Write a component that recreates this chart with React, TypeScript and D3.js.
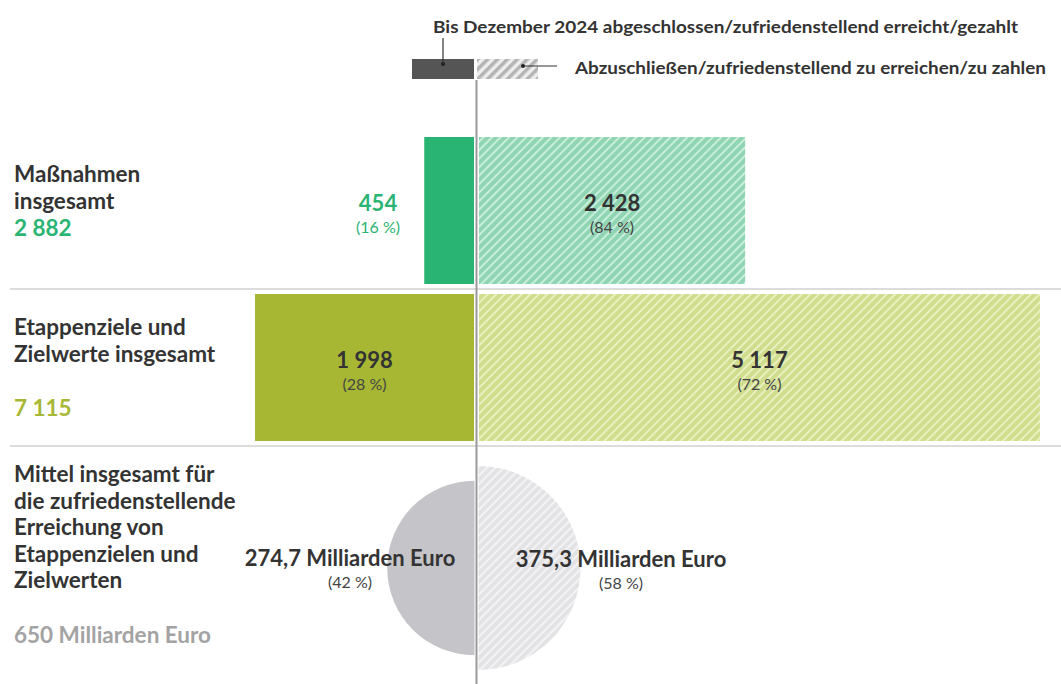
import React from "react";
import * as d3 from "d3";

// row data (bars)
const categories = ["Maßnahmen insgesamt", "Etappenziele und Zielwerte insgesamt"];
const headingLines = [
  ["Maßnahmen", "insgesamt"],
  ["Etappenziele und", "Zielwerte insgesamt"],
];
const doneValues = [454, 1998];
const openValues = [2428, 5117];
const totals = [2882, 7115];

// funds (half circles), Mrd. Euro
const fundsHeading = [
  "Mittel insgesamt für",
  "die zufriedenstellende",
  "Erreichung von",
  "Etappenzielen und",
  "Zielwerten",
];
const fundsDone = 274.7;
const fundsOpen = 375.3;
const fundsTotal = 650;

const legendLabels = [
  "Bis Dezember 2024 abgeschlossen/zufriedenstellend erreicht/gezahlt",
  "Abzuschließen/zufriedenstellend zu erreichen/zu zahlen",
];

const W = 1061;
const H = 684;
const axisX = 476.5;
const font = "Lato, 'Open Sans', sans-serif";

const solid = ["#2ab473", "#a7b733"];
const hatchBase = ["#8fd5b3", "#cfdd8d"];
const hatchStripe = ["#c7eedb", "#e8f0c0"];
const totalColors = ["#2ab473", "#a7b733"];

const headSize = 22.5;
const valueSize = 22;
const pctSize = 16;

const de = d3.formatLocale({
  decimal: ",",
  thousands: " ",
  grouping: [3],
  currency: ["", " €"],
});
const fmtInt = de.format(",d");
const fmtMrd = de.format(",.1f");
const pct = (v: number, t: number) => `(${Math.round((v / t) * 100)} %)`;

const App = () => {
  const y = d3.scaleBand<string>().domain(categories).range([132, 446]);
  const w = d3.scaleLinear().domain([0, 5200]).range([0, 570]);
  const r = d3.scaleSqrt().domain([0, fundsOpen]).range([0, 102]);
  const pieY = 568;

  const leftArc = d3.arc<any>()({
    innerRadius: 0,
    outerRadius: r(fundsDone),
    startAngle: Math.PI,
    endAngle: 2 * Math.PI,
  });
  const rightArc = d3.arc<any>()({
    innerRadius: 0,
    outerRadius: r(fundsOpen),
    startAngle: 0,
    endAngle: Math.PI,
  });

  const hatch = (id: string, base: string, stripe: string, size: number, sw: number) => (
    <pattern
      id={id}
      patternUnits="userSpaceOnUse"
      width={size}
      height={size}
      patternTransform="rotate(45)"
    >
      <rect width={size} height={size} fill={base} />
      <rect width={sw} height={size} fill={stripe} />
    </pattern>
  );

  return (
    <div style={{ position: "absolute", left: 0, top: 0 }}>
      <svg width={W} height={H} style={{ display: "block", fontFamily: font }}>
        <defs>
          {hatch("hatch0", hatchBase[0], hatchStripe[0], 6, 2)}
          {hatch("hatch1", hatchBase[1], hatchStripe[1], 6, 2)}
          {hatch("hatchGray", "#e3e3e6", "#f3f3f5", 6, 2)}
          {hatch("hatchLegend", "#eeeeee", "#b4b4b4", 7, 3.5)}
        </defs>
        <rect width={W} height={H} fill="#fff" />

        {/* legend */}
        <rect x={412} y={59} width={62} height={20} fill="#555" />
        <rect x={477} y={59} width={61} height={20} fill="url(#hatchLegend)" />
        <line x1={443} x2={443} y1={38} y2={64} stroke="#333" strokeWidth={1.2} />
        <circle cx={443} cy={64} r={2} fill="#222" />
        <line x1={523} x2={557} y1={66} y2={66} stroke="#333" strokeWidth={1.2} />
        <circle cx={523} cy={66} r={2} fill="#222" />
        <text x={433} y={33} fontSize={17} fontWeight={700} fill="#333" textLength={585} lengthAdjust="spacingAndGlyphs">
          {legendLabels[0]}
        </text>
        <text x={575} y={74} fontSize={17} fontWeight={700} fill="#333" textLength={471} lengthAdjust="spacingAndGlyphs">
          {legendLabels[1]}
        </text>

        {/* row separators */}
        {categories.map((c) => (
          <line
            key={c}
            x1={10}
            x2={W}
            y1={(y(c) as number) + y.bandwidth()}
            y2={(y(c) as number) + y.bandwidth()}
            stroke="#dcdcdc"
            strokeWidth={2}
          />
        ))}

        {/* bars */}
        {categories.map((c, i) => {
          const top = (y(c) as number) + 5;
          const h = y.bandwidth() - 10;
          const cy = top + h / 2;
          const lw = w(doneValues[i]);
          const rw = w(openValues[i]);
          const lx = axisX - 2.5 - lw;
          const rx = axisX + 2.5;
          const small = lw < 80;
          const lcx = small ? 378 : lx + lw / 2;
          return (
            <g key={c}>
              <rect x={lx} y={top} width={lw} height={h} fill={solid[i]} />
              <rect x={rx} y={top} width={rw} height={h} fill={`url(#hatch${i})`} />
              <text x={lcx} y={cy} textAnchor="middle" fontSize={valueSize} fontWeight={700} fill={small ? solid[i] : "#333"}>
                {fmtInt(doneValues[i])}
              </text>
              <text x={lcx} y={cy + 22} textAnchor="middle" fontSize={pctSize} fill={small ? solid[i] : "#444"}>
                {pct(doneValues[i], totals[i])}
              </text>
              <text x={rx + rw / 2} y={cy} textAnchor="middle" fontSize={valueSize} fontWeight={700} fill="#333">
                {fmtInt(openValues[i])}
              </text>
              <text x={rx + rw / 2} y={cy + 22} textAnchor="middle" fontSize={pctSize} fill="#444">
                {pct(openValues[i], totals[i])}
              </text>
            </g>
          );
        })}

        {/* row headings */}
        {categories.map((c, i) => {
          const top = y(c) as number;
          const base = i === 0 ? top + 50 : top + 46;
          const totalY = i === 0 ? base + 54 : base + 81;
          return (
            <g key={c + "h"} fontSize={headSize} fontWeight={700}>
              {headingLines[i].map((l, j) => (
                <text key={l} x={14} y={base + j * 27} fill="#333">
                  {l}
                </text>
              ))}
              <text x={14} y={totalY} fill={totalColors[i]}>
                {fmtInt(totals[i])}
              </text>
            </g>
          );
        })}

        {/* funds half circles */}
        <path d={leftArc as string} transform={`translate(${axisX - 2},${pieY})`} fill="#c5c5c9" />
        <path d={rightArc as string} transform={`translate(${axisX + 2},${pieY})`} fill="url(#hatchGray)" />
        <text x={350} y={pieY - 2} textAnchor="middle" fontSize={valueSize} fontWeight={700} fill="#333">
          {fmtMrd(fundsDone)} Milliarden Euro
        </text>
        <text x={350} y={pieY + 20} textAnchor="middle" fontSize={pctSize} fill="#444">
          {pct(fundsDone, fundsTotal)}
        </text>
        <text x={621} y={pieY - 1} textAnchor="middle" fontSize={valueSize} fontWeight={700} fill="#333">
          {fmtMrd(fundsOpen)} Milliarden Euro
        </text>
        <text x={621} y={pieY + 21} textAnchor="middle" fontSize={pctSize} fill="#444">
          {pct(fundsOpen, fundsTotal)}
        </text>
        <g fontSize={headSize} fontWeight={700}>
          {fundsHeading.map((l, j) => (
            <text key={l} x={14} y={482 + j * 26.5} fill="#333">
              {l}
            </text>
          ))}
          <text x={14} y={643} fill="#a3a3a3">
            {fmtInt(fundsTotal)} Milliarden Euro
          </text>
        </g>

        {/* centre axis */}
        <line x1={axisX} x2={axisX} y1={80} y2={H} stroke="#9a9a9a" strokeWidth={2} />
      </svg>
    </div>
  );
};

export default App;
